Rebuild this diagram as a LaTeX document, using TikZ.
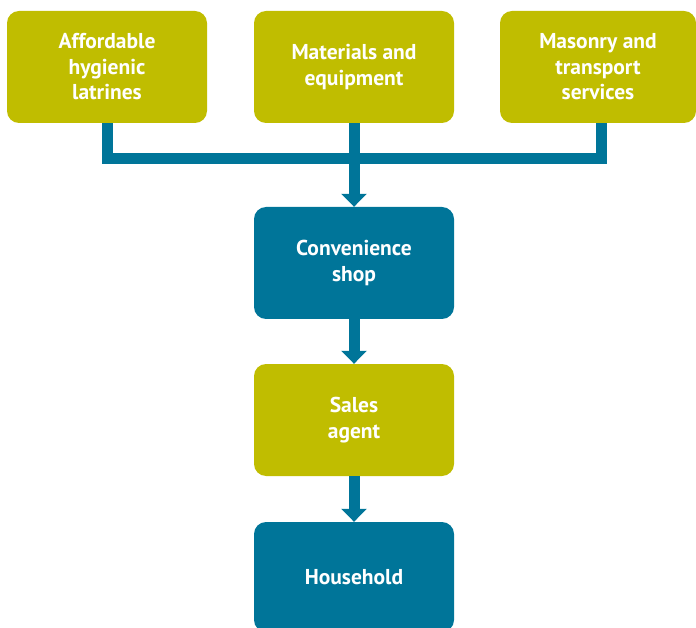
\documentclass[tikz,border=0pt]{standalone}
\usepackage{fontspec}
\setmainfont{PT Sans}
\usetikzlibrary{arrows.meta}
\definecolor{olive}{HTML}{C0BD00}
\definecolor{teal}{HTML}{007599}

\begin{document}
\begin{tikzpicture}[x=1pt,y=-1pt,
  box/.style={rounded corners=12pt,minimum width=200pt,minimum height=112pt,
    align=center,text=white,font=\bfseries\fontsize{21.5}{25.5}\selectfont,inner sep=0pt},
  lime/.style={box,fill=olive},
  sea/.style={box,fill=teal},
  link/.style={draw=teal,line width=11pt},
  flow/.style={link,-{Triangle[width=25pt,length=13pt]}}]
\useasboundingbox (0,0) rectangle (696,628);
\clip (0,0) rectangle (696,628);
\node[lime] (lat) at (107,67) {Affordable\\hygienic\\latrines};
\node[lime] (mat) at (354,67) {Materials and\\equipment};
\node[lime,minimum width=196pt] (mas) at (598,67) {Masonry and\\transport\\services};
\node[sea] (shop) at (354,263) {Convenience\\shop};
\node[lime] (agent) at (354,420) {Sales\\agent};
\node[sea,minimum height=110pt] (home) at (354,577) {Household};
\path (lat.south) ++(0,35) coordinate (jl);
\draw[link] (lat.south) -- (jl) -| ([xshift=3pt]mas.south);
\draw[flow] (mat.south) -- (shop.north);
\draw[flow] (shop.south) -- (agent.north);
\draw[flow] (agent.south) -- (home.north);
\end{tikzpicture}
\end{document}
